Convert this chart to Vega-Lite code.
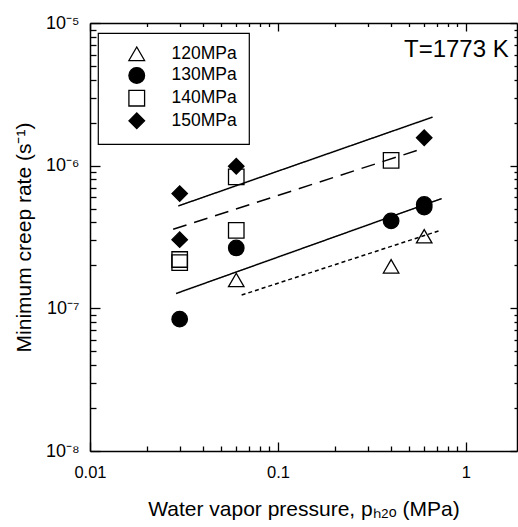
{
  "$schema": "https://vega.github.io/schema/vega-lite/v6.json",
  "width": 427,
  "height": 428,
  "autosize": {"type": "none"},
  "padding": {"left": 90, "top": 23, "right": 1, "bottom": 76},
  "background": "white",
  "config": {
    "view": {"stroke": null},
    "font": "Liberation Sans",
    "axis": {
      "grid": false,
      "domainColor": "black",
      "domainWidth": 1.5,
      "tickColor": "black",
      "tickWidth": 1.3,
      "labelColor": "black",
      "titleColor": "black",
      "labelFont": "Liberation Sans",
      "titleFont": "Liberation Sans",
      "titleFontWeight": "normal",
      "labelOverlap": false,
      "labelFlush": false
    },
    "legend": {
      "padding": 12,
      "strokeColor": "black", "strokeWidth": 1.2, "fillColor": "white",
      "labelFontSize": 17.5, "labelFont": "Liberation Sans", "labelColor": "black",
      "symbolSize": 246, "symbolStrokeWidth": 1.3,
      "symbolOffset": 18, "labelOffset": 26, "rowPadding": 0.7
    }
  },
  "datasets": {
    "points": [
      {"p": 0.06, "rate": 1.58e-7, "stress": "120MPa"},
      {"p": 0.4, "rate": 1.97e-7, "stress": "120MPa"},
      {"p": 0.6, "rate": 3.2e-7, "stress": "120MPa"},
      {"p": 0.03, "rate": 8.4e-8, "stress": "130MPa"},
      {"p": 0.06, "rate": 2.65e-7, "stress": "130MPa"},
      {"p": 0.4, "rate": 4.1e-7, "stress": "130MPa"},
      {"p": 0.6, "rate": 5.35e-7, "stress": "130MPa"},
      {"p": 0.6, "rate": 5.12e-7, "stress": "130MPa"},
      {"p": 0.03, "rate": 2.2e-7, "stress": "140MPa"},
      {"p": 0.03, "rate": 2.09e-7, "stress": "140MPa"},
      {"p": 0.06, "rate": 8.34e-7, "stress": "140MPa"},
      {"p": 0.06, "rate": 3.52e-7, "stress": "140MPa"},
      {"p": 0.4, "rate": 1.09e-6, "stress": "140MPa"},
      {"p": 0.03, "rate": 6.37e-7, "stress": "150MPa"},
      {"p": 0.03, "rate": 3.03e-7, "stress": "150MPa"},
      {"p": 0.06, "rate": 9.9e-7, "stress": "150MPa"},
      {"p": 0.6, "rate": 1.57e-6, "stress": "150MPa"}
    ],
    "fits": [
      {"p": 0.0641, "rate": 1.24e-7, "fit": "fit 120MPa"},
      {"p": 0.736, "rate": 3.53e-7, "fit": "fit 120MPa"},
      {"p": 0.0287, "rate": 1.27e-7, "fit": "fit 130MPa"},
      {"p": 0.743, "rate": 5.88e-7, "fit": "fit 130MPa"},
      {"p": 0.0277, "rate": 3.58e-7, "fit": "fit 140MPa"},
      {"p": 0.593, "rate": 1.32e-6, "fit": "fit 140MPa"},
      {"p": 0.0295, "rate": 5.22e-7, "fit": "fit 150MPa"},
      {"p": 0.665, "rate": 2.19e-6, "fit": "fit 150MPa"}
    ]
  },
  "layer": [
    {
      "data": {"name": "fits"},
      "mark": {"type": "line", "color": "black", "strokeWidth": 1.5},
      "encoding": {
        "x": {
          "field": "p", "type": "quantitative",
          "scale": {"type": "log", "domain": [0.01, 1.87], "nice": false},
          "axis": {
            "orient": "top", "labels": false, "title": null,
            "values": [0.01,0.02,0.03,0.04,0.05,0.06,0.07,0.08,0.09,0.1,0.2,0.3,0.4,0.5,0.6,0.7,0.8,0.9,1],
            "tickSize": {"condition": {"test": "indexof([0.01,0.1,1], datum.value) >= 0", "value": -8}, "value": -3.5}
          }
        },
        "y": {
          "field": "rate", "type": "quantitative",
          "scale": {"type": "log", "domain": [1e-8, 1e-5], "nice": false},
          "axis": {
            "orient": "right", "labels": false, "title": null,
            "values": [1e-8,2e-8,3e-8,4e-8,5e-8,6e-8,7e-8,8e-8,9e-8,1e-7,2e-7,3e-7,4e-7,5e-7,6e-7,7e-7,8e-7,9e-7,1e-6,2e-6,3e-6,4e-6,5e-6,6e-6,7e-6,8e-6,9e-6,1e-5],
            "tickSize": {"condition": {"test": "indexof([1e-8,1e-7,1e-6,1e-5], datum.value) >= 0", "value": -7}, "value": -3}
          }
        },
        "detail": {"field": "fit", "type": "nominal"},
        "strokeDash": {
          "field": "fit", "type": "nominal",
          "scale": {"domain": ["fit 120MPa", "fit 130MPa", "fit 140MPa", "fit 150MPa"], "range": [[4, 3], [1, 0], [14, 8], [1, 0]]},
          "legend": null
        }
      }
    },
    {
      "data": {"name": "points"},
      "mark": {"type": "point", "filled": true, "size": 240, "strokeWidth": 1.3, "opacity": 1},
      "encoding": {
        "x": {
          "field": "p", "type": "quantitative",
          "scale": {"type": "log", "domain": [0.01, 1.87], "nice": false},
          "axis": {
            "orient": "bottom",
            "values": [0.01,0.02,0.03,0.04,0.05,0.06,0.07,0.08,0.09,0.1,0.2,0.3,0.4,0.5,0.6,0.7,0.8,0.9,1],
            "tickSize": {"condition": {"test": "indexof([0.01,0.1,1], datum.value) >= 0", "value": -9}, "value": -5},
            "labelExpr": "datum.value === 0.01 ? '0.01' : datum.value === 0.1 ? '0.1' : datum.value === 1 ? '1' : ''",
            "labelFontSize": 16.5,
            "labelPadding": 22,
            "title": "Water vapor pressure, pₕ₂ₒ (MPa)",
            "titleFontSize": 21,
            "titlePadding": 14
          }
        },
        "y": {
          "field": "rate", "type": "quantitative",
          "scale": {"type": "log", "domain": [1e-8, 1e-5], "nice": false},
          "axis": {
            "orient": "left",
            "values": [1e-8,2e-8,3e-8,4e-8,5e-8,6e-8,7e-8,8e-8,9e-8,1e-7,2e-7,3e-7,4e-7,5e-7,6e-7,7e-7,8e-7,9e-7,1e-6,2e-6,3e-6,4e-6,5e-6,6e-6,7e-6,8e-6,9e-6,1e-5],
            "tickSize": {"condition": {"test": "indexof([1e-8,1e-7,1e-6,1e-5], datum.value) >= 0", "value": -10}, "value": -6},
            "labelExpr": "datum.value === 1e-8 ? '10⁻⁸' : datum.value === 1e-7 ? '10⁻⁷' : datum.value === 1e-6 ? '10⁻⁶' : datum.value === 1e-5 ? '10⁻⁵' : ''",
            "labelFontSize": 18,
            "labelPadding": 21,
            "title": "Minimum creep rate (s⁻¹)",
            "titleFontSize": 21,
            "titlePadding": 11
          }
        },
        "shape": {
          "field": "stress", "type": "nominal",
          "scale": {"domain": ["120MPa", "130MPa", "140MPa", "150MPa"], "range": ["triangle-up", "circle", "square", "diamond"]},
          "legend": {
            "title": null, "orient": "none", "legendX": 8, "legendY": 10,
            "labelFontSize": 17.5, "labelFont": "Liberation Sans", "labelColor": "black",
            "labelOffset": 26, "rowPadding": 0.7, "symbolOffset": 18, "symbolSize": 246, "padding": 12,
            "symbolStrokeWidth": 1.3
          }
        },
        "fill": {
          "field": "stress", "type": "nominal",
          "scale": {"domain": ["120MPa", "130MPa", "140MPa", "150MPa"], "range": ["transparent", "black", "transparent", "black"]},
          "legend": {
            "title": null, "orient": "none", "legendX": 8, "legendY": 10,
            "labelFontSize": 17.5, "labelFont": "Liberation Sans", "labelColor": "black",
            "labelOffset": 26, "rowPadding": 0.7, "symbolOffset": 18, "symbolSize": 246, "padding": 12,
            "symbolStrokeWidth": 1.3
          }
        },
        "stroke": {
          "field": "stress", "type": "nominal",
          "scale": {"domain": ["120MPa", "130MPa", "140MPa", "150MPa"], "range": ["black", "black", "black", "black"]},
          "legend": {
            "title": null, "orient": "none", "legendX": 8, "legendY": 10,
            "labelFontSize": 17.5, "labelFont": "Liberation Sans", "labelColor": "black",
            "labelOffset": 26, "rowPadding": 0.7, "symbolOffset": 18, "symbolSize": 246, "padding": 12,
            "symbolStrokeWidth": 1.3
          }
        }
      }
    },
    {
      "data": {"values": [{}]},
      "mark": {"type": "text", "text": "T=1773 K", "align": "right", "baseline": "alphabetic", "fontSize": 24, "font": "Liberation Sans", "color": "black"},
      "encoding": {
        "x": {"datum": 1.69, "type": "quantitative", "scale": {"type": "log", "domain": [0.01, 1.87], "nice": false}, "axis": null},
        "y": {"datum": 5.78e-6, "type": "quantitative", "scale": {"type": "log", "domain": [1e-8, 1e-5], "nice": false}, "axis": null}
      }
    }
  ],
  "resolve": {"axis": {"x": "independent", "y": "independent"}}
}
